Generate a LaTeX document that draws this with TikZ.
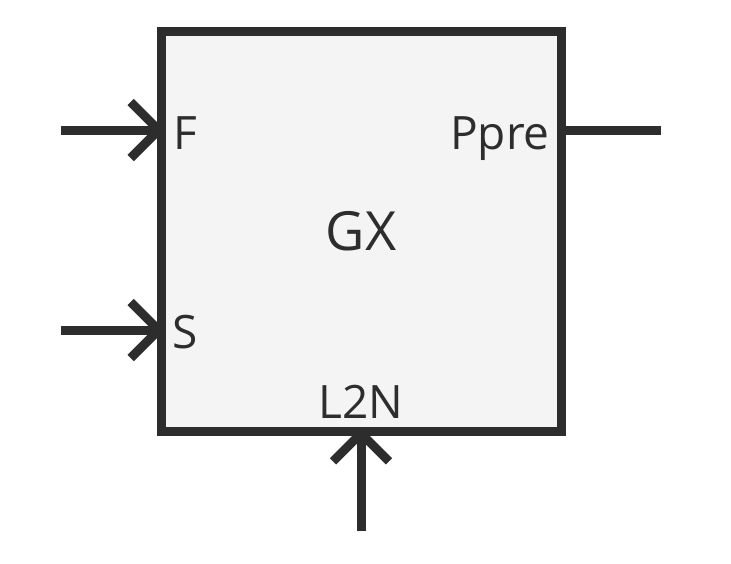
\documentclass[tikz,border=0pt]{standalone}
\usepackage{fontspec}
\setmainfont{Open Sans}
\usetikzlibrary{arrows.meta}
\definecolor{ink}{HTML}{2D2D2D}
\definecolor{boxfill}{HTML}{F4F4F4}
\tikzset{
  block/.style={draw=ink, fill=boxfill, line width=9pt, minimum size=400pt, inner sep=0pt, outer sep=0pt},
  port/.style={text=ink, font=\fontsize{46}{54}\selectfont, inner sep=0pt},
  wire/.style={draw=ink, line width=9pt},
  inwire/.style={wire, -{Straight Barb[length=28pt,width=56pt]}}
}
\begin{document}
\begin{tikzpicture}[x=1pt, y=-1pt]
    \useasboundingbox (0,0) rectangle (731,563);
    % Block
    \node[block] (gx) at (361,231) {};
    \node[port, font=\fontsize{54}{60}\selectfont] (gxname) at (361,231) {GX};

    % Port labels
    \node[port, anchor=base west] (lblF) at (173,149) {F};
    \node[port, anchor=base west] (lblS) at (172,348) {S};
    \node[port, anchor=base east] (lblP) at (550,149) {Ppre};
    \node[port, anchor=base] (lblL) at (361,418) {L2N};

    % Ports on the border
    \coordinate (pF) at (165,130);
    \coordinate (pS) at (165,330);
    \coordinate (pP) at (561,130);
    \coordinate (pL) at (361,427);

    % Free ends
    \coordinate (srcF) at (61,130);
    \coordinate (srcS) at (61,330);
    \coordinate (dstP) at (661,130);
    \coordinate (srcL) at (361,531);

    % Connectors
    \draw[inwire] (srcF) -- (pF);
    \draw[inwire] (srcS) -- (pS);
    \draw[inwire] (srcL) -- (pL);
    \draw[wire] (pP) -- (dstP);
\end{tikzpicture}
\end{document}
